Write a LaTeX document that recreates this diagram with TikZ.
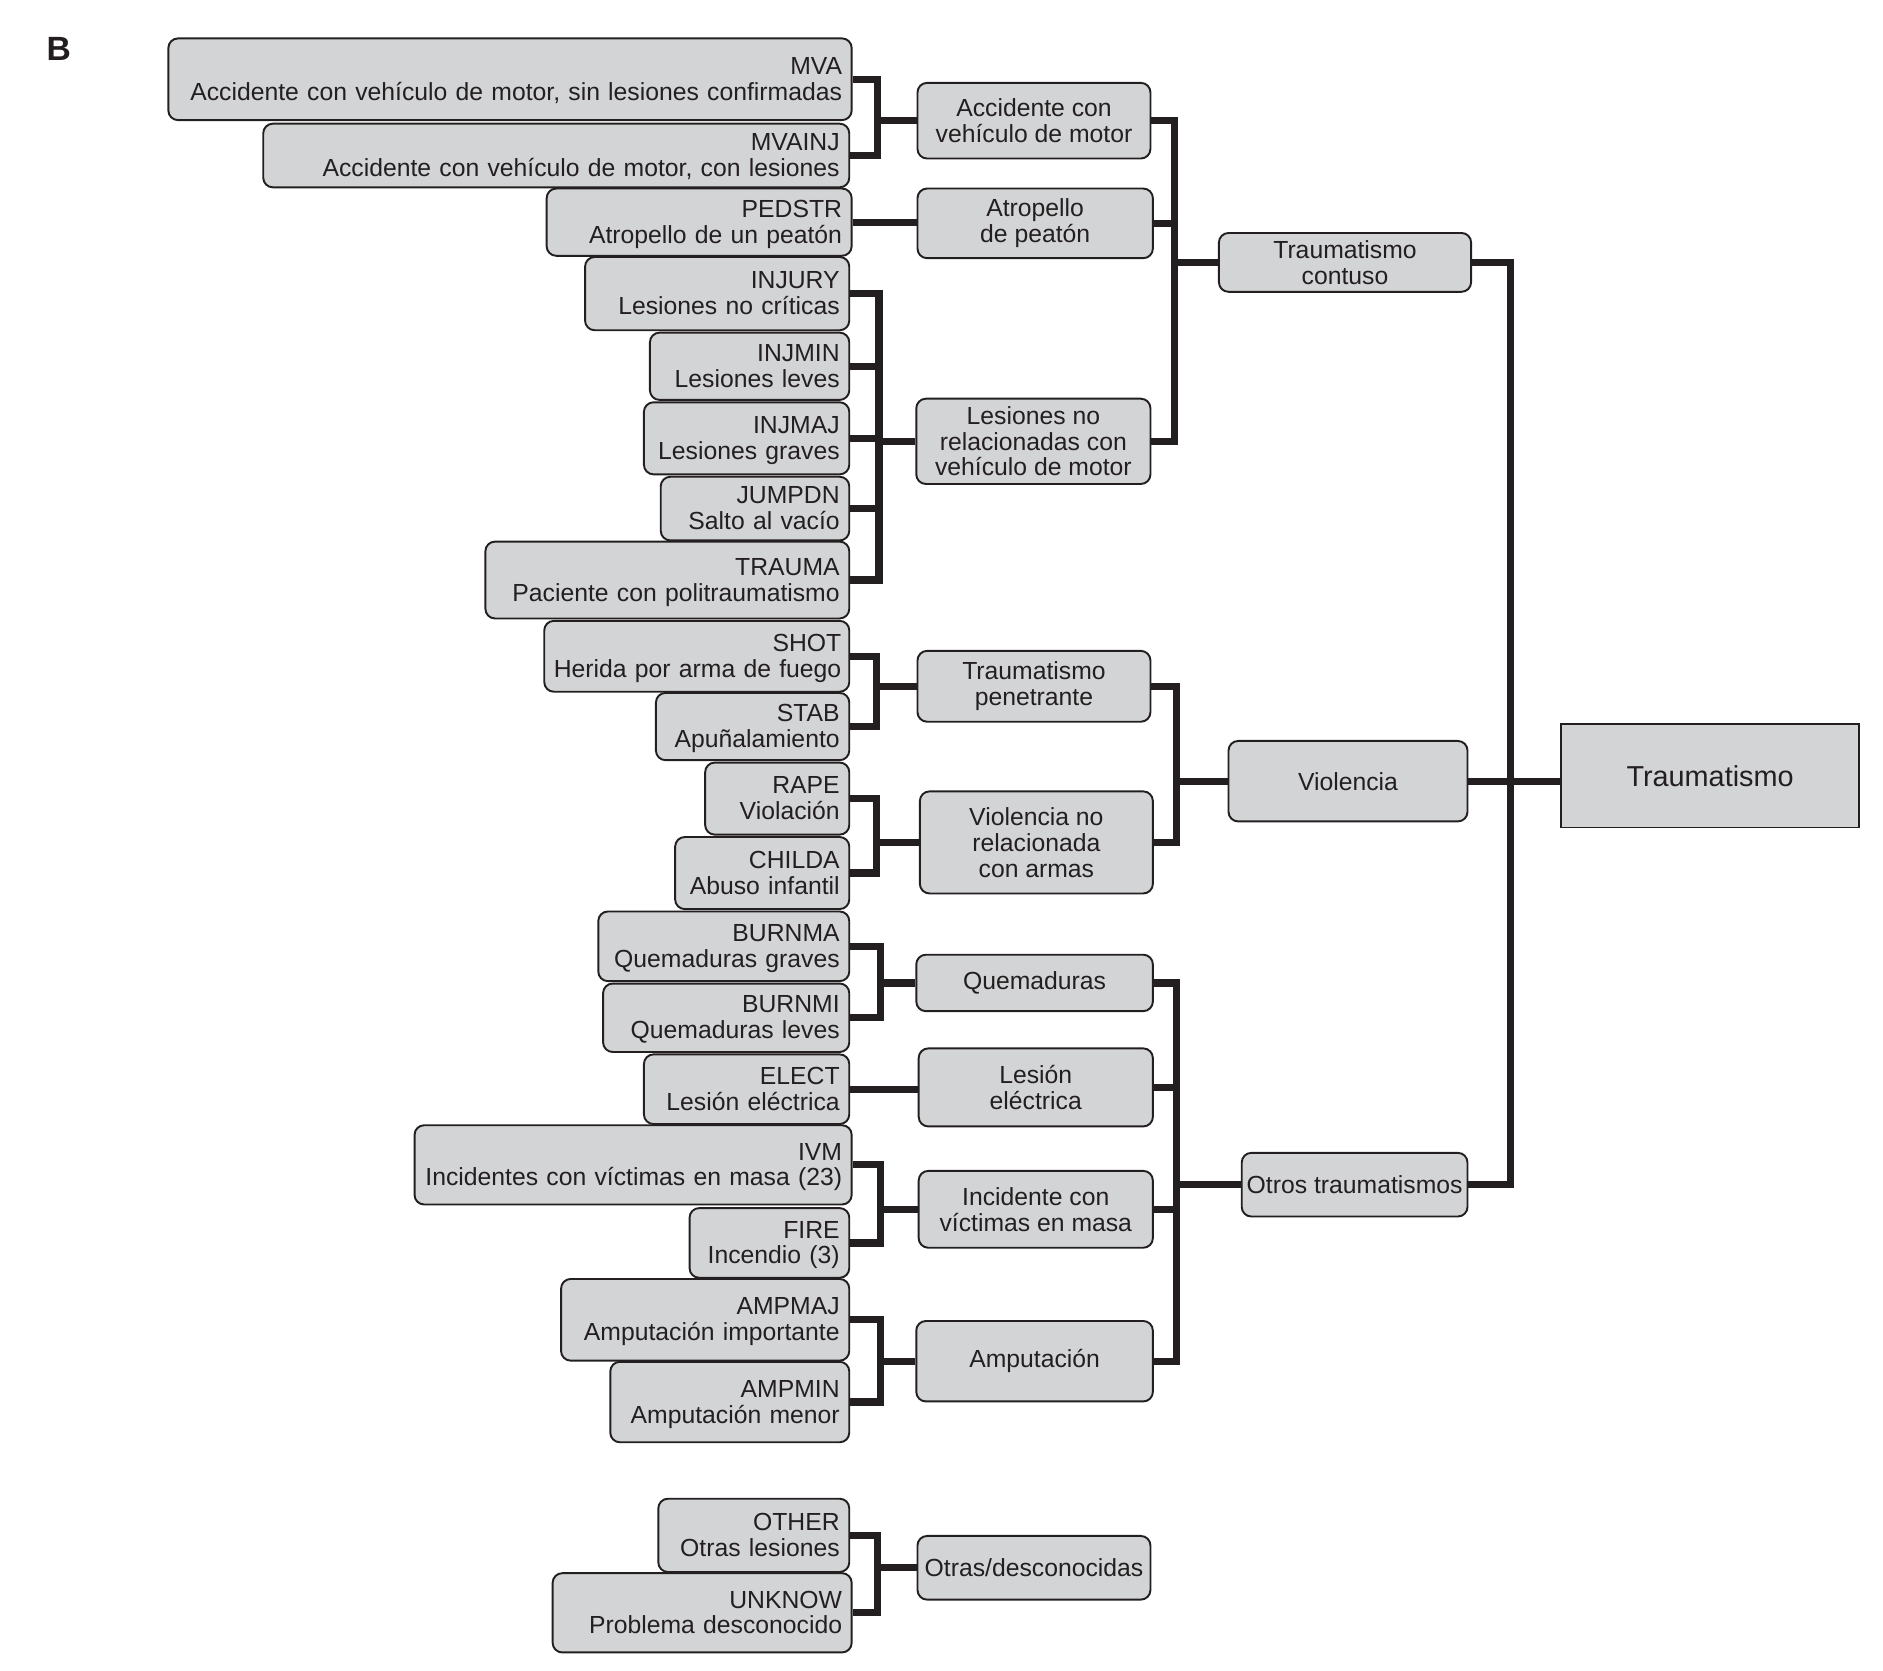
\documentclass[tikz,border=0pt]{standalone}
\usepackage{fontspec}
\setmainfont{Liberation Sans}
\definecolor{boxgray}{RGB}{211,212,214}
\definecolor{ink}{RGB}{35,31,32}

\newcommand{\leaftext}[2]{\begin{tabular}{@{}r@{}}\rule{0pt}{20pt}#1\\#2\end{tabular}}

\tikzset{
	box/.style={draw=ink, line width=1.6pt, fill=boxgray, rounded corners=8pt, text=ink,
		font=\fontsize{20.6}{21.5}\selectfont},
	leaf/.style 2 args={box, anchor=east, align=right, inner xsep=8pt, inner ysep=0pt,
		text width=#1, minimum height=#2},
	cat/.style 2 args={box, align=center, inner xsep=2pt, inner ysep=0pt,
		minimum width=#1, minimum height=#2},
	root/.style={draw=ink, line width=1.2pt, fill=boxgray, text=ink,
		font=\fontsize{24}{26}\selectfont, minimum width=248, minimum height=86},
	conn/.style={draw=ink, line width=6pt}
}

\begin{document}
\begin{tikzpicture}[x=1pt,y=-1pt]
	\useasboundingbox (0,0) rectangle (1568,1391);
	\node[text=ink, font=\bfseries\fontsize{28}{28}\selectfont] (panel) at (49,41) {B};

	% codes
	\node[leaf={553}{68}] (mva) at (710,66) {\leaftext{MVA}{Accidente con vehículo de motor, sin lesiones confirmadas}};
	\node[leaf={472}{53}] (mvainj) at (708,129.5) {\leaftext{MVAINJ}{Accidente con vehículo de motor, con lesiones}};
	\node[leaf={238}{56}] (pedstr) at (710,185) {\leaftext{PEDSTR}{Atropello de un peatón}};
	\node[leaf={204}{61}] (injury) at (708,244.5) {\leaftext{INJURY}{Lesiones no críticas}};
	\node[leaf={150}{56}] (injmin) at (708,305) {\leaftext{INJMIN}{Lesiones leves}};
	\node[leaf={155}{60}] (injmaj) at (708,365) {\leaftext{INJMAJ}{Lesiones graves}};
	\node[leaf={141}{53}] (jumpdn) at (708,423.5) {\leaftext{JUMPDN}{Salto al vacío}};
	\node[leaf={287}{64}] (trauma) at (708,483) {\leaftext{TRAUMA}{Paciente con politraumatismo}};
	\node[leaf={238}{59}] (shot) at (708,546.5) {\leaftext{SHOT}{Herida por arma de fuego}};
	\node[leaf={145}{56}] (stab) at (708,605) {\leaftext{STAB}{Apuñalamiento}};
	\node[leaf={104}{60}] (rape) at (708,665) {\leaftext{RAPE}{Violación}};
	\node[leaf={129}{60}] (childa) at (708,727) {\leaftext{CHILDA}{Abuso infantil}};
	\node[leaf={193}{58}] (burnma) at (708,788) {\leaftext{BURNMA}{Quemaduras graves}};
	\node[leaf={189}{57}] (burnmi) at (708,847.5) {\leaftext{BURNMI}{Quemaduras leves}};
	\node[leaf={155}{58}] (elect) at (708,907) {\leaftext{ELECT}{Lesión eléctrica}};
	\node[leaf={348}{66}] (ivm) at (710,970) {\leaftext{IVM}{Incidentes con víctimas en masa (23)}};
	\node[leaf={117}{58}] (fire) at (708,1035) {\leaftext{FIRE}{Incendio (3)}};
	\node[leaf={224}{68}] (ampmaj) at (708,1099) {\leaftext{AMPMAJ}{Amputación importante}};
	\node[leaf={183}{67}] (ampmin) at (708,1167.5) {\leaftext{AMPMIN}{Amputación menor}};
	\node[leaf={143}{61}] (other) at (708,1278.5) {\leaftext{OTHER}{Otras lesiones}};
	\node[leaf={233}{66}] (unknow) at (710,1343) {\leaftext{UNKNOW}{Problema desconocido}};

	% categories
	\node[cat={194}{63}] (accmv) at (861,100.5) {Accidente con\\vehículo de motor};
	\node[cat={196}{58}] (atrop) at (862,186) {Atropello\\de peatón};
	\node[cat={195}{71}] (lesnr) at (860.5,367.5) {Lesiones no\\relacionadas con\\vehículo de motor};
	\node[cat={194}{59}] (penet) at (861,571.5) {Traumatismo\\penetrante};
	\node[cat={194}{85}] (violnr) at (863,701.5) {Violencia no\\relacionada\\con armas};
	\node[cat={197}{47}] (quem) at (861.5,818.5) {Quemaduras};
	\node[cat={195}{65}] (elec) at (862.5,905.5) {Lesión\\eléctrica};
	\node[cat={195}{64}] (masa) at (862.5,1007) {Incidente con\\víctimas en masa};
	\node[cat={197}{67}] (amput) at (861.5,1133.5) {Amputación};
	\node[cat={194}{53}] (otrasd) at (861,1305.5) {Otras/desconocidas};

	\node[cat={210}{49}] (contuso) at (1120,218.5) {Traumatismo\\contuso};
	\node[cat={199}{67}] (violencia) at (1122.5,650.5) {Violencia};
	\node[cat={188}{53}] (otros) at (1128,986.5) {Otros traumatismos};

	\node[root] (traum) at (1424,646) {Traumatismo};

	\coordinate (mva-x) at (731,0);
	\coordinate (injury-x) at (732,0);
	\coordinate (shot-x) at (730,0);
	\coordinate (rape-x) at (730,0);
	\coordinate (burn-x) at (733,0);
	\coordinate (ivm-x) at (733,0);
	\coordinate (amp-x) at (733,0);
	\coordinate (other-x) at (731,0);
	\coordinate (contuso-x) at (978,0);
	\coordinate (violencia-x) at (980,0);
	\coordinate (otros-x) at (980,0);
	\coordinate (traum-x) at (1258,0);

	% brackets
	\draw[conn] (mva.east) -- (mva.east-|mva-x) |- (mvainj.east);
	\draw[conn] (accmv.west) -- (accmv.west-|mva-x);
	\draw[conn] (pedstr.east) -- (pedstr.east-|atrop.west);
	\draw[conn] (injury.east) -- (injury.east-|injury-x) |- (trauma.east);
	\foreach \n in {injmin,injmaj,jumpdn}
		\draw[conn] (\n.east) -- (\n.east-|injury-x);
	\draw[conn] (lesnr.west) -- (lesnr.west-|injury-x);
	\draw[conn] (shot.east) -- (shot.east-|shot-x) |- (stab.east);
	\draw[conn] (penet.west) -- (penet.west-|shot-x);
	\draw[conn] (rape.east) -- (rape.east-|rape-x) |- (childa.east);
	\draw[conn] (violnr.west) -- (violnr.west-|rape-x);
	\draw[conn] (burnma.east) -- (burnma.east-|burn-x) |- (burnmi.east);
	\draw[conn] (quem.west) -- (quem.west-|burn-x);
	\draw[conn] (elect.east) -- (elect.east-|elec.west);
	\draw[conn] (ivm.east) -- (ivm.east-|ivm-x) |- (fire.east);
	\draw[conn] (masa.west) -- (masa.west-|ivm-x);
	\draw[conn] (ampmaj.east) -- (ampmaj.east-|amp-x) |- (ampmin.east);
	\draw[conn] (amput.west) -- (amput.west-|amp-x);
	\draw[conn] (other.east) -- (other.east-|other-x) |- (unknow.east);
	\draw[conn] (otrasd.west) -- (otrasd.west-|other-x);

	% groups
	\draw[conn] (accmv.east) -- (accmv.east-|contuso-x) |- (lesnr.east);
	\draw[conn] (atrop.east) -- (atrop.east-|contuso-x);
	\draw[conn] (contuso.west) -- (contuso.west-|contuso-x);
	\draw[conn] (penet.east) -- (penet.east-|violencia-x) |- (violnr.east);
	\draw[conn] (violencia.west) -- (violencia.west-|violencia-x);
	\draw[conn] (quem.east) -- (quem.east-|otros-x) |- (amput.east);
	\foreach \n in {elec,masa}
		\draw[conn] (\n.east) -- (\n.east-|otros-x);
	\draw[conn] (otros.west) -- (otros.west-|otros-x);

	\draw[conn] (contuso.east) -- (contuso.east-|traum-x) |- (otros.east);
	\draw[conn] (violencia.east) -- (violencia.east-|traum.west);
\end{tikzpicture}
\end{document}
